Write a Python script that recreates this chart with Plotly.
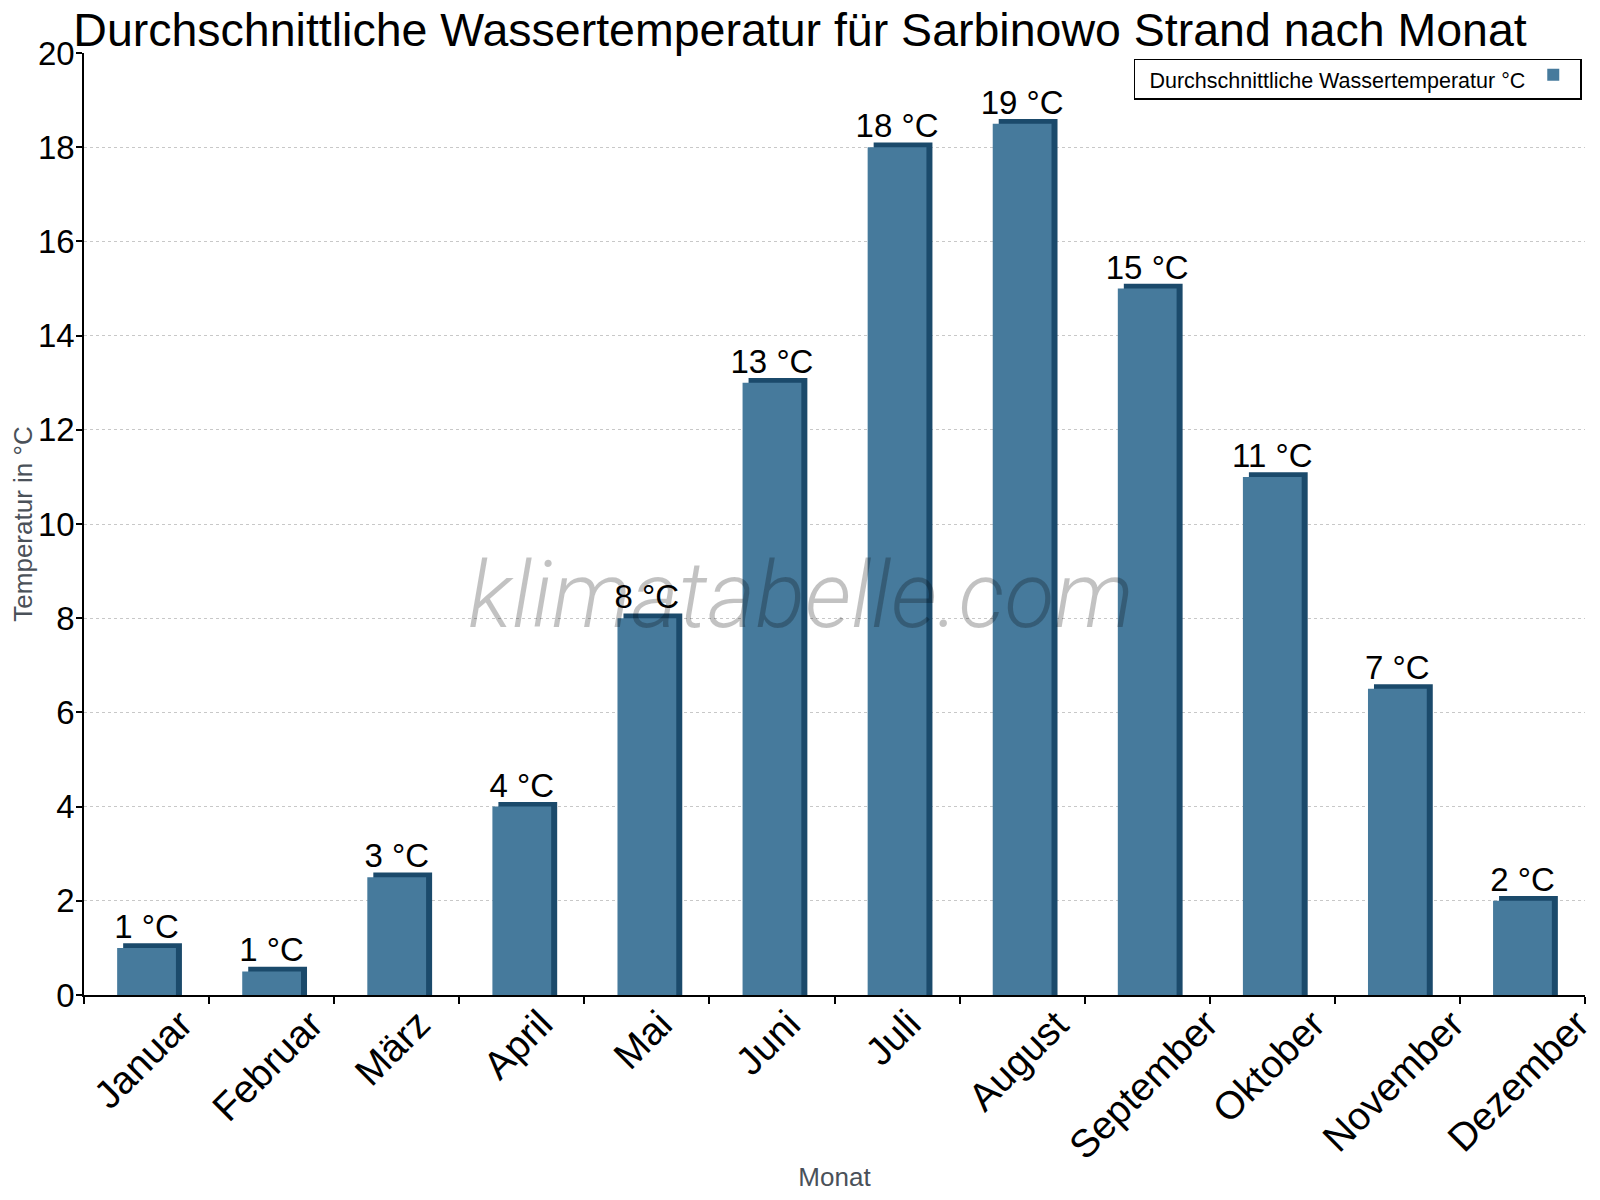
import plotly.graph_objects as go

months = ["Januar", "Februar", "März", "April", "Mai", "Juni", "Juli",
          "August", "September", "Oktober", "November", "Dezember"]
water_temp = [1.0, 0.5, 2.5, 4.0, 8.0, 13.0, 18.0, 18.5, 15.0, 11.0, 6.5, 2.0]
value_labels = ["1 °C", "1 °C", "3 °C", "4 °C", "8 °C", "13 °C", "18 °C",
                "19 °C", "15 °C", "11 °C", "7 °C", "2 °C"]

title_text = "Durchschnittliche Wassertemperatur für Sarbinowo Strand nach Monat"
series_name = "Durchschnittliche Wassertemperatur °C"
y_title = "Temperatur in °C"
x_title = "Monat"
watermark = "klimatabelle.com"

FRONT = "#467a9c"
SIDE = "#1b4a6b"
FONT = "Liberation Sans, Arial, sans-serif"

bar_w = 0.47
depth_x = 0.048
depth_y = 0.1

fig = go.Figure()

# darker "3D" side/top, drawn behind the front face
fig.add_trace(go.Bar(
    x=months, y=[v + depth_y for v in water_temp],
    width=bar_w, offset=-bar_w / 2 + depth_x,
    marker=dict(color=SIDE, line=dict(width=0)),
    showlegend=False, hoverinfo="skip",
))

fig.add_trace(go.Bar(
    x=months, y=water_temp,
    width=bar_w, offset=-bar_w / 2,
    marker=dict(color=FRONT, line=dict(width=0)),
    text=value_labels, textposition="outside", constraintext="none",
    textfont=dict(size=33, color="black", family=FONT),
    cliponaxis=False,
    name=" ", showlegend=True,
))

fig.update_layout(
    width=1584, height=1184,
    barmode="overlay",
    paper_bgcolor="white", plot_bgcolor="white",
    margin=dict(l=76, r=7, t=45, b=197, autoexpand=False),
    font=dict(family=FONT, color="black"),
    title=dict(text=title_text, x=0.5, xanchor="center", yref="container", y=1, yanchor="top",
               pad=dict(t=5, b=0),
               font=dict(size=46.5, color="black", family=FONT)),
    showlegend=True,
    legend=dict(
        x=0.998, xanchor="right", y=0.994, yanchor="top",
        bgcolor="white", bordercolor="black", borderwidth=1.5,
        title=dict(text="\u00a0\u00a0" + series_name, side="left",
                   font=dict(size=21.5, color="black", family=FONT)),
        font=dict(size=8, color="black", family=FONT),
        itemwidth=30,
    ),
)

fig.update_xaxes(
    type="category", range=[-0.5, len(months) - 0.5], autorange=False,
    automargin=False,
    showline=True, linecolor="black", linewidth=1.5,
    ticks="outside", tickson="boundaries", ticklen=7, tickcolor="black", tickwidth=1.5,
    showticklabels=False,
    showgrid=False,
    title=dict(text=x_title, font=dict(size=26, color="#4a5159", family=FONT), standoff=186),
)

fig.update_yaxes(
    range=[0, 20], dtick=2, automargin=False,
    showline=True, linecolor="black", linewidth=1.5,
    ticks="outside", ticklen=6, tickcolor="black", tickwidth=1.5,
    tickfont=dict(size=33, color="black", family=FONT), ticklabelstandoff=-5,
    showgrid=True, gridcolor="#c8c8c8", griddash="dot", gridwidth=1,
    zeroline=False,
    title=dict(text=y_title, font=dict(size=26, color="#4a5159", family=FONT), standoff=13),
)

# month labels, rotated about their centre below each category
for m in months:
    fig.add_annotation(
        text=m, x=m, xref="x", y=0, yref="y",
        xanchor="center", yanchor="top", yshift=-4, xshift=-4,
        textangle=-45, showarrow=False,
        font=dict(size=39, color="black", family=FONT),
    )

fig.add_annotation(
    text=watermark, xref="paper", yref="paper", x=0.478, y=0.424,
    xanchor="center", yanchor="middle", showarrow=False,
    font=dict(size=92, color="rgba(0,0,0,0.24)", family="Roboto", style="italic", weight=300),
)

fig.write_html("out.html")
